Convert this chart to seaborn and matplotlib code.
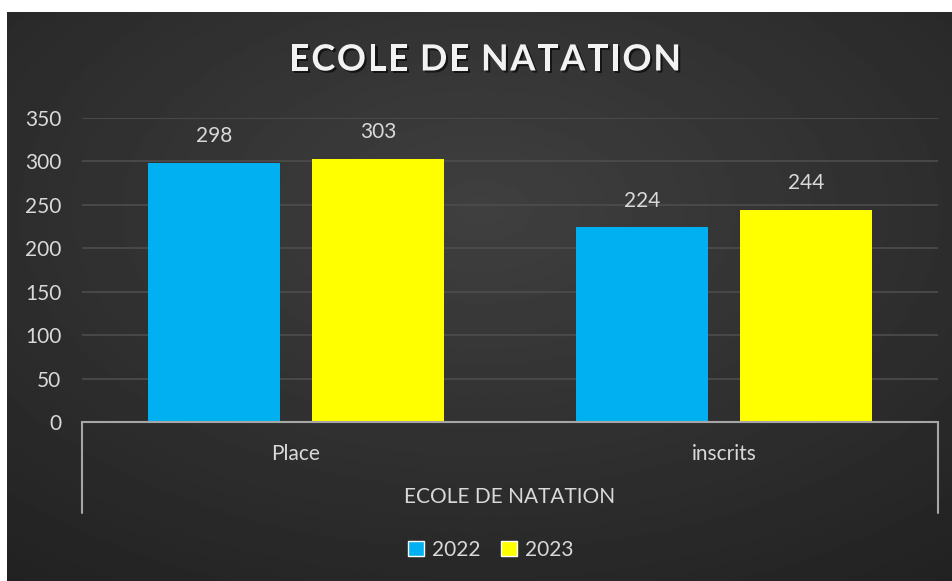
import numpy as np
import pandas as pd
import matplotlib
matplotlib.use("Agg")
import matplotlib.pyplot as plt
import matplotlib.patheffects as pe
from matplotlib.patches import Patch
import seaborn as sns

# data
categories = ["Place", "inscrits"]
years = ["2022", "2023"]
values_2022 = [298, 224]
values_2023 = [303, 244]
colors = ["#00B0F0", "#FFFF00"]
title = "ECOLE DE NATATION"

df = pd.DataFrame({
    "categorie": categories * 2,
    "annee": [years[0]] * 2 + [years[1]] * 2,
    "valeur": values_2022 + values_2023,
})

sns.set_style("dark")
plt.rcParams["font.family"] = ["Lato", "DejaVu Sans"]

W, H = 953, 581
fig = plt.figure(figsize=(W / 100, H / 100), dpi=100)
fig.patch.set_facecolor("white")

# dark radial gradient background (leaves a thin white strip top and left)
bg = fig.add_axes([7 / W, 0, (W - 7) / W, (H - 12) / H])
yy, xx = np.mgrid[0:1:300j, 0:1:500j]
r = np.sqrt(((xx - 0.5) / 0.9) ** 2 + ((yy - 0.35) / 0.9) ** 2)
grad = 0.25 - 0.13 * np.clip(r, 0, 1)
bg.imshow(grad, cmap="gray", vmin=0, vmax=1, aspect="auto",
          extent=[0, 1, 0, 1], origin="upper", interpolation="bilinear")
bg.set_axis_off()

ax = fig.add_axes([82 / W, (H - 422) / H, 856 / W, 304 / H])
ax.set_facecolor("none")
ax.set_zorder(2)

sns.barplot(data=df, x="categorie", y="valeur", hue="annee",
            palette=colors, width=0.766, gap=0.195, saturation=1,
            linewidth=0, edgecolor="none", legend=False, ax=ax)

txt_col = "#d9d9d9"
for cont in ax.containers:
    ax.bar_label(cont, padding=12, color=txt_col, fontsize=15)

ax.set_xlim(-0.5, 1.5)
ax.set_ylim(0, 350)
ax.set_yticks(np.arange(0, 351, 50))
ax.grid(axis="y", color="#4d4d4d", linewidth=1.2)
ax.grid(axis="x", visible=False)
ax.set_axisbelow(True)
for s in ["top", "right", "left"]:
    ax.spines[s].set_visible(False)
ax.spines["bottom"].set_color("#a6a6a6")
ax.spines["bottom"].set_linewidth(1.5)

ax.tick_params(axis="y", length=0, pad=15, labelsize=15, labelcolor=txt_col)
ax.tick_params(axis="x", length=0, pad=16, labelsize=15, labelcolor=txt_col)
ax.set_xlabel("")
ax.set_ylabel("")

# group bracket below the axis
depth = (513 - 422) / 304
for xv in [0, 1]:
    ax.plot([xv, xv], [0, -depth], transform=ax.transAxes, color="#a6a6a6",
            linewidth=1.5, clip_on=False)
ax.text(0.5, -(497 - 422) / 304, "ECOLE DE NATATION", transform=ax.transAxes,
        ha="center", va="center", color=txt_col, fontsize=15)

# letter-spaced title, one character at a time
renderer = fig.canvas.get_renderer()
t_size = 26
shadow = [pe.withSimplePatchShadow(offset=(1.5, -1.5), shadow_rgbFace="black", alpha=0.6)]
widths = []
for ch in title:
    if ch == " ":
        widths.append(None)
        continue
    tmp = fig.text(0, 0, ch, fontsize=t_size, fontweight="bold")
    widths.append(tmp.get_window_extent(renderer).width)
    tmp.remove()
space_w = 8
target = 392
n_gaps = len(title) - 1
base = sum(w if w is not None else space_w for w in widths)
extra = (target - base) / n_gaps
x = 485 - target / 2
for ch, w in zip(title, widths):
    if w is None:
        x += space_w + extra
        continue
    fig.text(x / W, 1 - 60 / H, ch, ha="left", va="center", color="#f2f2f2",
             fontsize=t_size, fontweight="bold", path_effects=shadow)
    x += w + extra

handles = [Patch(facecolor=c) for c in colors]
fig.legend(handles, years, loc="center", bbox_to_anchor=(491 / W, 1 - 550 / H),
           ncol=2, frameon=False, fontsize=15, labelcolor=txt_col,
           handlelength=0.75, handleheight=0.75, handletextpad=0.4,
           columnspacing=1.0)

fig.savefig("out.png", dpi=100, facecolor=fig.get_facecolor())
